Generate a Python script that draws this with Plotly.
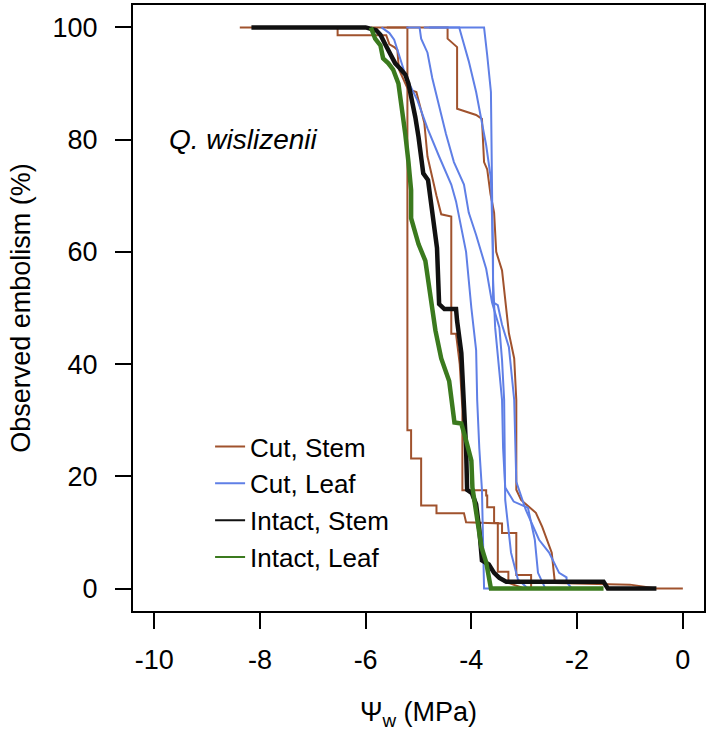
import plotly.graph_objects as go

# ---- data (water potential in MPa, embolism in %) ----
cut_stem_1_x = [-5.9, -5.21, -5.21, -5.14, -5.14, -4.95, -4.95, -4.66, -4.66, -4.14, -4.10, -3.42, -3.42, -3.15, -3.15, -2.87, -2.87, -2.3]
cut_stem_1_y = [100, 100, 28.2, 28.2, 23.2, 23.2, 14.8, 14.8, 13.4, 13.4, 11.8, 11.6, 9.9, 9.9, 2.4, 2.4, 0, 0]

cut_stem_2_x = [-8.38, -6.53, -6.53, -5.61, -5.55, -5.46, -5.40, -5.37, -5.20, -5.04, -4.89, -4.83, -4.66, -4.57, -4.38, -4.38, -4.29, -4.22, -4.17, -4.17, -3.72, -3.72, -3.70, -3.70, -3.57, -3.57, -3.50, -3.50, -3.30, -3.30, -3.0]
cut_stem_2_y = [100, 100, 98.6, 98.6, 97, 96.5, 96, 92.5, 89, 88.5, 83, 77, 70, 66.7, 66.3, 45.4, 45.4, 40, 32, 17.5, 17.5, 16.6, 16.6, 14.5, 14.5, 11.7, 11.7, 3, 3, 1, 0]

cut_stem_3_x = [-5.6, -4.45, -4.45, -4.27, -4.27, -3.91, -3.80, -3.76, -3.70, -3.64, -3.57, -3.53, -3.42, -3.29, -3.19, -3.15, -3.15, -3.06, -2.78, -2.66, -2.48, -2.42, -2.42, -1.0, -0.5, 0.0]
cut_stem_3_y = [100, 100, 98, 96.5, 85.5, 84.4, 83.7, 76, 74.7, 70.4, 67, 60, 56.7, 45.5, 41, 33.6, 17.6, 15.8, 13.5, 11, 6.4, 1.6, 1.0, 0.7, 0, 0]

cut_leaf_1_x = [-4.8, -3.76, -3.70, -3.63, -3.61, -3.59, -3.55, -3.49, -3.42, -3.40, -3.36, -3.20, -2.93, -2.80, -2.74, -2.60]
cut_leaf_1_y = [100, 100, 95, 88.5, 72, 55, 46.5, 40, 33.6, 25, 18, 15.5, 14.4, 8.7, 2.8, 0]

cut_leaf_2_x = [-5.23, -4.98, -4.95, -4.83, -4.74, -4.61, -4.48, -4.33, -4.14, -4.05, -3.91, -3.72, -3.61, -3.47, -3.42, -3.38, -3.36, -3.25, -3.12, -2.93]
cut_leaf_2_y = [100, 100, 98, 95.5, 91, 86, 81, 76, 72, 67, 63, 57, 51, 46.5, 40.7, 33.6, 15.8, 6.4, 1.6, 0]

cut_leaf_3_x = [-4.9, -4.23, -4.17, -4.05, -3.91, -3.80, -3.72, -3.63, -3.61, -3.59, -3.59, -3.50, -3.42, -3.29, -3.19, -3.15, -2.97, -2.72, -2.53, -2.34, -2.20, -2.20, -2.10]
cut_leaf_3_y = [100, 100, 98, 94, 88.5, 83, 79, 73, 67, 60, 51, 50.5, 47, 43, 33.6, 19, 14, 8.7, 6.4, 2.8, 2, 1.2, 0]

cut_leaf_4_x = [-5.7, -5.55, -5.46, -5.23, -5.02, -4.83, -4.61, -4.38, -4.29, -4.10, -4.00, -3.91, -3.89, -3.85, -3.80, -3.76, -3.76, -3.63]
cut_leaf_4_y = [100, 99, 97.8, 91, 87, 82, 77, 72, 69, 60, 50, 42.5, 33.6, 25, 17.6, 2, 0, 0]

intact_stem_x = [-8.16, -6.0, -5.80, -5.72, -5.63, -5.53, -5.44, -5.34, -5.25, -5.19, -5.12, -5.06, -5.00, -4.97, -4.91, -4.82, -4.76, -4.76, -4.70, -4.65, -4.61, -4.51, -4.29, -4.27, -4.19, -4.14, -4.14, -4.10, -4.08, -3.99, -3.91, -3.85, -3.80, -3.67, -3.57, -3.47, -3.34, -1.50, -1.42, -0.50]
intact_stem_y = [100, 100, 99.5, 98.7, 97, 95, 93.6, 92.6, 91.6, 90, 87, 84, 80.5, 78, 74, 72.8, 68.6, 67.3, 63, 60.7, 50.7, 49.8, 49.8, 47.7, 42, 33.6, 31, 25, 17.6, 17, 15, 10.5, 5, 4.3, 2.8, 1.9, 1.2, 1.2, 0, 0]

intact_leaf_x = [-5.9, -5.82, -5.72, -5.67, -5.57, -5.48, -5.38, -5.33, -5.25, -5.19, -5.14, -5.14, -5.00, -4.87, -4.78, -4.68, -4.57, -4.42, -4.32, -4.19, -4.10, -4.00, -3.98, -3.89, -3.81, -3.72, -3.66, -3.63, -1.50]
intact_leaf_y = [100, 98, 96.8, 94.5, 93.6, 92.5, 90, 87, 81, 76, 71, 66, 61.4, 58.4, 52, 46, 41, 37, 29.6, 29.4, 26.4, 22.8, 18, 12.2, 7.4, 4.7, 1.5, 0, 0]

series = [
    ("Cut, Stem", "#A0522D", 2, [(cut_stem_1_x, cut_stem_1_y), (cut_stem_2_x, cut_stem_2_y), (cut_stem_3_x, cut_stem_3_y)]),
    ("Cut, Leaf", "#5F7FE6", 2, [(cut_leaf_1_x, cut_leaf_1_y), (cut_leaf_2_x, cut_leaf_2_y), (cut_leaf_3_x, cut_leaf_3_y), (cut_leaf_4_x, cut_leaf_4_y)]),
    ("Intact, Stem", "#111111", 4.5, [(intact_stem_x, intact_stem_y)]),
    ("Intact, Leaf", "#3B7A1E", 4.5, [(intact_leaf_x, intact_leaf_y)]),
]

x_ticks = [-10, -8, -6, -4, -2, 0]
y_ticks = [0, 20, 40, 60, 80, 100]

fig = go.Figure()
for name, color, width, curves in series:
    for xs, ys in curves:
        fig.add_trace(go.Scatter(
            x=xs, y=ys, mode="lines", name=name,
            line=dict(color=color, width=width),
            showlegend=False, legendgroup=name,
        ))
# legend keys (thin sample lines, as in the reference)
for name, color, width, curves in series:
    fig.add_trace(go.Scatter(
        x=[None], y=[None], mode="lines", name=name,
        line=dict(color=color, width=2), showlegend=True, legendgroup=name,
    ))

font_family = "Liberation Sans, Arial, sans-serif"

fig.update_layout(
    width=709, height=735,
    margin=dict(l=133, r=4, t=3, b=124),
    paper_bgcolor="white", plot_bgcolor="white",
    font=dict(family=font_family, size=27, color="black"),
    showlegend=True,
    legend=dict(
        x=0.135, y=0.31, xanchor="left", yanchor="top",
        bgcolor="rgba(0,0,0,0)", font=dict(size=26),
        tracegroupgap=0, itemwidth=30,
    ),
    xaxis=dict(
        range=[-10.4, 0.4], tickvals=x_ticks, ticktext=[str(v) for v in x_ticks],
        ticks="outside", ticklen=16, tickwidth=2, tickcolor="black",
        showline=True, linewidth=2, linecolor="black", mirror=True,
        showgrid=False, zeroline=False,
        ticklabelstandoff=8,
        title=dict(text="Ψ<sub>w</sub> (MPa)", font=dict(size=27), standoff=28),
    ),
    yaxis=dict(
        range=[-4, 104], tickvals=y_ticks, ticktext=[str(v) for v in y_ticks],
        ticks="outside", ticklen=16, tickwidth=2, tickcolor="black",
        showline=True, linewidth=2, linecolor="black", mirror=True,
        showgrid=False, zeroline=False,
        ticklabelstandoff=12,
        title=dict(text="Observed embolism (%)", font=dict(size=27), standoff=14),
    ),
    annotations=[dict(
        x=-9.75, y=80, xref="x", yref="y", xanchor="left", yanchor="middle",
        text="<i>Q. wislizenii</i>", showarrow=False,
        font=dict(size=28, family=font_family),
    )],
)

fig.write_html(
    "out.html",
    config={"displayModeBar": False},
    post_script="document.body.style.margin='0';document.body.style.overflow='hidden';",
)
